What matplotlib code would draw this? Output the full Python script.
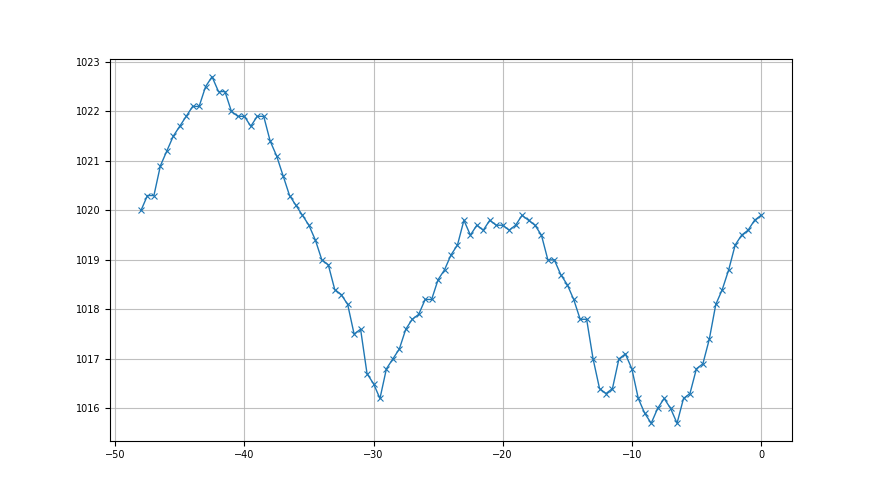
import numpy as np
import matplotlib
matplotlib.use("Agg")
import matplotlib.pyplot as plt

hours = np.arange(-48, 0.01, 0.5)
pressure = [
    1020.0, 1020.3, 1020.3, 1020.9, 1021.2, 1021.5, 1021.7, 1021.9, 1022.1, 1022.1,
    1022.5, 1022.7, 1022.4, 1022.4, 1022.0, 1021.9, 1021.9, 1021.7, 1021.9, 1021.9,
    1021.4, 1021.1, 1020.7, 1020.3, 1020.1, 1019.9, 1019.7, 1019.4, 1019.0, 1018.9,
    1018.4, 1018.3, 1018.1, 1017.5, 1017.6, 1016.7, 1016.5, 1016.2, 1016.8, 1017.0,
    1017.2, 1017.6, 1017.8, 1017.9, 1018.2, 1018.2, 1018.6, 1018.8, 1019.1, 1019.3,
    1019.8, 1019.5, 1019.7, 1019.6, 1019.8, 1019.7, 1019.7, 1019.6, 1019.7, 1019.9,
    1019.8, 1019.7, 1019.5, 1019.0, 1019.0, 1018.7, 1018.5, 1018.2, 1017.8, 1017.8,
    1017.0, 1016.4, 1016.3, 1016.4, 1017.0, 1017.1, 1016.8, 1016.2, 1015.9, 1015.7,
    1016.0, 1016.2, 1016.0, 1015.7, 1016.2, 1016.3, 1016.8, 1016.9, 1017.4, 1018.1,
    1018.4, 1018.8, 1019.3, 1019.5, 1019.6, 1019.8, 1019.9,
]

fig, ax = plt.subplots(figsize=(8.8, 4.95), dpi=100)
ax.plot(hours, pressure, marker="x", color="#1f77b4", linewidth=1.0, markersize=4, markeredgewidth=0.8)
ax.grid(True, color="#b0b0b0", linewidth=0.8, alpha=0.8)
ax.set_axisbelow(True)
ax.tick_params(labelsize=7)
fig.savefig("out.png", dpi=100)
